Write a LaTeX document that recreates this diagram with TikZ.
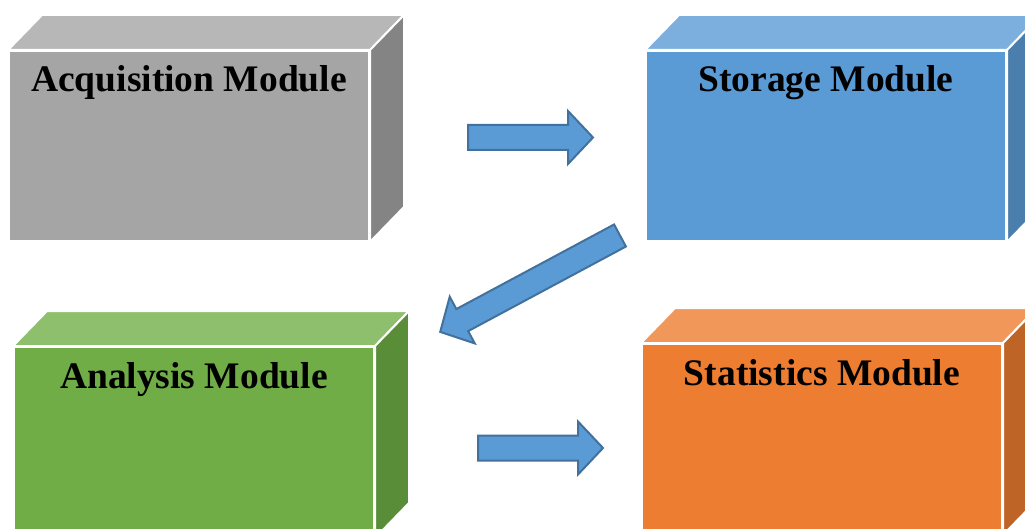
\documentclass[tikz,border=0pt]{standalone}
\usepackage{fontspec}
\setmainfont{Liberation Serif}
\usetikzlibrary{calc}
\definecolor{grayF}{HTML}{A5A5A5}
\definecolor{grayT}{HTML}{B7B7B7}
\definecolor{grayS}{HTML}{848484}
\definecolor{blueF}{HTML}{5B9BD5}
\definecolor{blueT}{HTML}{7CAFDD}
\definecolor{blueS}{HTML}{4A7EAD}
\definecolor{greenF}{HTML}{70AD47}
\definecolor{greenT}{HTML}{8DBF6C}
\definecolor{greenS}{HTML}{5A8D38}
\definecolor{orangeF}{HTML}{ED7D31}
\definecolor{orangeT}{HTML}{F1975A}
\definecolor{orangeS}{HTML}{BE6427}
\definecolor{arrowline}{HTML}{41719C}
\tikzset{
  face/.style={draw=white, line width=2pt, line join=miter},
  frontface/.style={face, rectangle, inner sep=0pt, anchor=north west,
    minimum width=360pt, minimum height=190pt},
  lbl/.style={anchor=base, inner sep=0pt, font=\fontsize{37.5}{44}\selectfont\bfseries},
  arrowbody/.style={fill=blueF, draw=arrowline, line width=2pt, line join=miter},
  pics/blockarrow/.style={code={
    \draw[arrowbody] (0,-12.5) -- ({#1-25},-12.5) -- ({#1-25},-26.5) -- (#1,0)
      -- ({#1-25},26.5) -- ({#1-25},12.5) -- (0,12.5) -- cycle;}}
}
\newcommand\modcube[6]{% name, position, front, top, side, text
  \node[frontface, fill=#3] (#1) at (#2) {};
  \filldraw[face, fill=#4] (#1.north west) -- ++(34,-35) -- ($(#1.north east)+(34,-35)$) -- (#1.north east) -- cycle;
  \filldraw[face, fill=#5] (#1.north east) -- ++(34,-35) -- ($(#1.south east)+(34,-35)$) -- (#1.south east) -- cycle;
  \node[lbl] (#1text) at ([yshift=-42pt]#1.north) {#6};
}
\begin{document}
\begin{tikzpicture}[x=1pt, y=-1pt]
  \clip (0,0) rectangle (1025,529);
  \fill[white] (0,0) rectangle (1025,529);
  \modcube{acq}{8,50}{grayF}{grayT}{grayS}{Acquisition Module}
  \modcube{sto}{645,50}{blueF}{blueT}{blueS}{Storage Module}
  \modcube{ana}{13,346}{greenF}{greenT}{greenS}{Analysis Module}
  \modcube{sta}{641,343}{orangeF}{orangeT}{orangeS}{Statistics Module}
  \coordinate (a1) at (468,137.5);
  \coordinate (a2) at (620,235.5);
  \coordinate (a3) at (478,448);
  \pic at (a1) {blockarrow=125};
  \pic[rotate=208.2] at (a2) {blockarrow=204};
  \pic at (a3) {blockarrow=125};
\end{tikzpicture}
\end{document}
